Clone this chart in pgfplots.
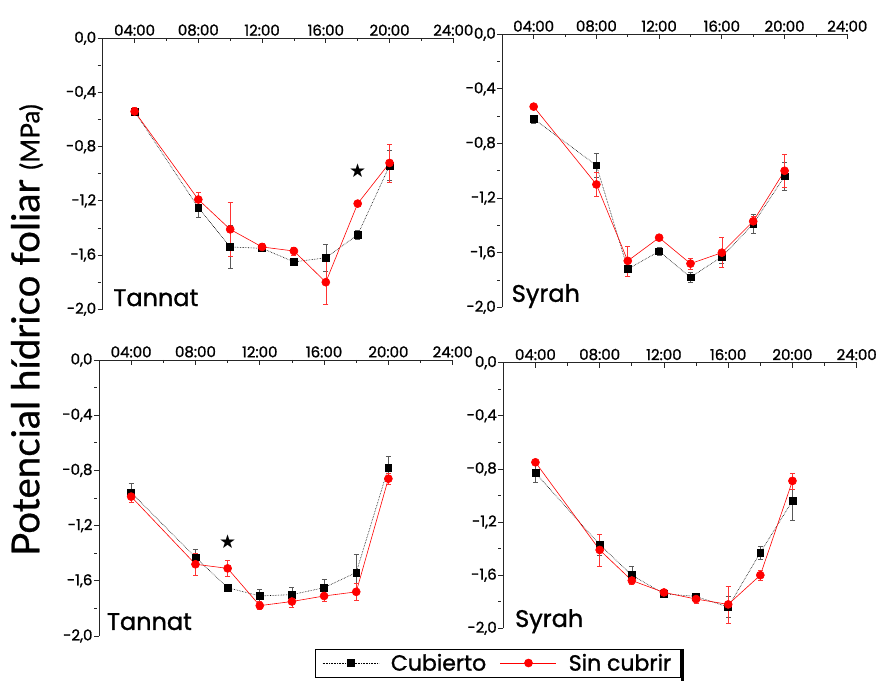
\documentclass[border=0pt]{standalone}
\usepackage{pgfplots}
\pgfplotsset{compat=1.18}
\usepackage{pgfplotstable}
\usepackage{fontspec}
\setmainfont{Poppins}[FakeBold=1.2]
\newfontfamily\labfont{Lato}[FakeBold=0.6]
\newfontfamily\symfont{DejaVu Sans}

% Tannat (top)
\pgfplotstableread{
x y e
4 -0.54 0.03
8 -1.25 0.07
10 -1.54 0.16
12 -1.55 0.02
14 -1.65 0.02
16 -1.62 0.10
18 -1.45 0.03
20 -0.94 0.11
}\TaCa
\pgfplotstableread{
x y e
4 -0.54 0.03
8 -1.19 0.05
10 -1.41 0.20
12 -1.54 0.03
14 -1.57 0.03
16 -1.80 0.16
18 -1.22 0.01
20 -0.92 0.14
}\TaSa
% Syrah (top)
\pgfplotstableread{
x y e
4 -0.62 0.03
8 -0.96 0.09
10 -1.72 0.05
12 -1.59 0.03
14 -1.78 0.04
16 -1.63 0.05
18 -1.39 0.07
20 -1.04 0.10
}\SyCa
\pgfplotstableread{
x y e
4 -0.53 0.0
8 -1.10 0.09
10 -1.66 0.11
12 -1.49 0.02
14 -1.68 0.04
16 -1.60 0.11
18 -1.37 0.04
20 -1.00 0.12
}\SySa
% Tannat (bottom)
\pgfplotstableread{
x y e
4 -0.96 0.07
8 -1.43 0.06
10 -1.65 0.02
12 -1.71 0.05
14 -1.70 0.05
16 -1.65 0.06
18 -1.54 0.13
20 -0.78 0.08
}\TbCa
\pgfplotstableread{
x y e
4 -0.99 0.04
8 -1.48 0.08
10 -1.51 0.06
12 -1.78 0.03
14 -1.75 0.04
16 -1.71 0.04
18 -1.68 0.06
20 -0.86 0.04
}\TbSa
% Syrah (bottom)
\pgfplotstableread{
x y e
4 -0.83 0.07
8 -1.37 0.08
10 -1.60 0.07
12 -1.74 0.02
14 -1.76 0.02
16 -1.84 0.08
18 -1.43 0.05
20 -1.04 0.15
}\SbCa
\pgfplotstableread{
x y e
4 -0.75 0.01
8 -1.41 0.12
10 -1.64 0.03
12 -1.73 0.02
14 -1.78 0.03
16 -1.82 0.14
18 -1.60 0.04
20 -0.89 0.06
}\SbSa

\pgfplotsset{
  panel/.style={
    scale only axis, clip=false,
    xmin=2, xmax=24, ymin=-2, ymax=0,
    axis x line=top, axis y line=left,
    axis line style={-, line width=0.9pt, black!85},
    xtick={4,8,12,16,20,24},
    xticklabels={04:00,08:00,12:00,16:00,20:00,24:00},
    minor x tick num=1,
    ytick={-2,-1.6,-1.2,-0.8,-0.4,0},
    yticklabels={{-2,0},{-1,6},{-1,2},{-0,8},{-0,4},{0,0}},
    minor y tick num=1,
    tick align=inside,
    major tick length=5pt, minor tick length=3pt,
    tick style={line width=0.8pt, black!85},
    ytick style={xshift=-5pt},
    tick label style={font=\fontsize{15}{18}\selectfont},
    xticklabel style={yshift=-1pt},
    yticklabel style={xshift=-3pt},
  },
  cub/.style={black, densely dotted, line width=0.6pt,
    mark=square*, mark size=3.4pt, mark options={solid, fill=black},
    error bars/.cd, y dir=both, y explicit,
    error bar style={solid, line width=0.6pt, black!65},
    error mark options={rotate=90, mark size=2.5pt, solid, line width=0.6pt, black!65}},
  sin/.style={red, solid, line width=0.6pt,
    mark=*, mark size=4pt, mark options={solid, fill=red},
    error bars/.cd, y dir=both, y explicit,
    error bar style={solid, line width=0.6pt, red!80},
    error mark options={rotate=90, mark size=2.5pt, solid, line width=0.6pt, red!80}},
}

\begin{document}
\begin{tikzpicture}[x=1pt,y=1pt]
\useasboundingbox (0,0) rectangle (883,682);

% Top-left: Tannat
\begin{axis}[panel, at={(102.7pt,372.7pt)}, anchor=south west, width=350.6pt, height=271pt]
\addplot[cub] table[x=x, y=y, y error=e] {\TaCa};
\addplot[sin] table[x=x, y=y, y error=e] {\TaSa};
\node[font=\symfont\fontsize{19}{19}\selectfont] at (axis cs:18,-0.98) {★};
\node[anchor=base west, inner sep=0, font=\fontsize{24}{28}\selectfont] at (rel axis cs:0.03,0.012) {Tannat};
\end{axis}

% Top-right: Syrah
\begin{axis}[panel, at={(502.3pt,374.7pt)}, anchor=south west, width=345pt, height=273pt]
\addplot[cub] table[x=x, y=y, y error=e] {\SyCa};
\addplot[sin] table[x=x, y=y, y error=e] {\SySa};
\node[anchor=base west, inner sep=0, font=\fontsize{24}{28}\selectfont] at (rel axis cs:0.027,0.02) {Syrah};
\end{axis}

% Bottom-left: Tannat
\begin{axis}[panel, at={(99pt,46pt)}, anchor=south west, width=353.7pt, height=276pt]
\addplot[cub] table[x=x, y=y, y error=e] {\TbCa};
\addplot[sin] table[x=x, y=y, y error=e] {\TbSa};
\node[font=\symfont\fontsize{19}{19}\selectfont] at (axis cs:10,-1.32) {★};
\node[anchor=base west, inner sep=0, font=\fontsize{24}{28}\selectfont] at (rel axis cs:0.022,0.022) {Tannat};
\end{axis}

% Bottom-right: Syrah
\begin{axis}[panel, at={(503.3pt,53.7pt)}, anchor=south west, width=353.4pt, height=265.6pt,
  legend columns=2,
  legend style={at={(-0.5328,-0.1307)}, anchor=west, draw=black, line width=0.6pt,
    font=\fontsize{22}{25}\selectfont, inner xsep=7pt, inner ysep=3pt,
    /tikz/every odd column/.append style={column sep=10pt},
    /tikz/every even column/.append style={column sep=12pt}},
  legend image code/.code={\draw[#1, mark repeat=2, mark phase=2] plot coordinates {(0pt,0pt) (28pt,0pt) (56pt,0pt)};},
]
\addplot[cub] table[x=x, y=y, y error=e] {\SbCa};
\addlegendentry{Cubierto}
\addplot[sin] table[x=x, y=y, y error=e] {\SbSa};
\addlegendentry{Sin cubrir}
\node[anchor=base west, inner sep=0, font=\fontsize{24}{28}\selectfont] at (rel axis cs:0.033,0.005) {Syrah};
\end{axis}

\draw[line width=2.5pt] (682.3pt,33pt) -- (682.3pt,1pt);
\node[rotate=90, anchor=center] at (27pt,352pt) {\labfont\fontsize{38.5}{40}\selectfont Potencial hídrico foliar \fontsize{26}{28}\selectfont(MPa)};
\end{tikzpicture}
\end{document}
